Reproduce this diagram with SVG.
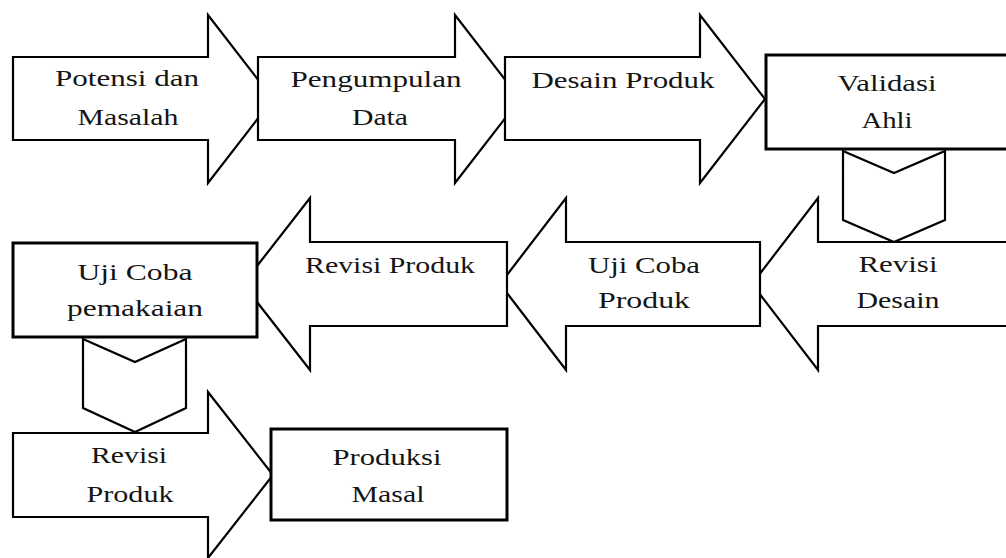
<svg xmlns="http://www.w3.org/2000/svg" width="1006" height="558" viewBox="0 0 1006 558">
<style>
.arr{fill:#fff;stroke:#000;stroke-width:2.2;stroke-linejoin:miter}
.box{fill:#fff;stroke:#000;stroke-width:3}
.chev{fill:#fff;stroke:#000;stroke-width:2.2}
text{font-family:"Liberation Serif","Times New Roman",serif;font-size:24px;fill:#151515;text-anchor:middle}
</style>
<rect width="1006" height="558" fill="#fff"/>
<g id="n1"><polygon class="arr" points="13,57 208,57 208,15 273,99 208,183 208,140 13,140"/>
<text x="127" y="86" textLength="144" lengthAdjust="spacingAndGlyphs">Potensi dan</text>
<text x="128" y="125" textLength="101" lengthAdjust="spacingAndGlyphs">Masalah</text></g>
<g id="n2"><polygon class="arr" points="258,57 455,57 455,15 520,99 455,183 455,140 258,140"/>
<text x="376" y="87" textLength="171" lengthAdjust="spacingAndGlyphs">Pengumpulan</text>
<text x="380" y="125" textLength="56" lengthAdjust="spacingAndGlyphs">Data</text></g>
<g id="n3"><polygon class="arr" points="505,57 700,57 700,15 765,99 700,183 700,140 505,140"/>
<text x="623" y="88" textLength="183" lengthAdjust="spacingAndGlyphs">Desain Produk</text></g>
<g id="n4"><rect class="box" x="766" y="55" width="250" height="94"/>
<text x="887" y="91" textLength="99" lengthAdjust="spacingAndGlyphs">Validasi</text>
<text x="887" y="128" textLength="51" lengthAdjust="spacingAndGlyphs">Ahli</text></g>
<g id="n5"><polygon class="arr" points="1012,242 818,242 818,198 752,284 818,370 818,326 1012,326"/>
<text x="898" y="272" textLength="79" lengthAdjust="spacingAndGlyphs">Revisi</text>
<text x="898" y="308" textLength="83" lengthAdjust="spacingAndGlyphs">Desain</text></g>
<g id="n6"><polygon class="arr" points="760,242 566,242 566,198 500,284 566,370 566,326 760,326"/>
<text x="644" y="273" textLength="112" lengthAdjust="spacingAndGlyphs">Uji Coba</text>
<text x="644" y="308" textLength="92" lengthAdjust="spacingAndGlyphs">Produk</text></g>
<g id="n7"><polygon class="arr" points="507,242 310,242 310,198 243,284 310,370 310,326 507,326"/>
<text x="390" y="273" textLength="170" lengthAdjust="spacingAndGlyphs">Revisi Produk</text></g>
<g id="n8"><rect class="box" x="13" y="243" width="244" height="94"/>
<text x="135" y="280" textLength="115" lengthAdjust="spacingAndGlyphs">Uji Coba</text>
<text x="135" y="316" textLength="136" lengthAdjust="spacingAndGlyphs">pemakaian</text></g>
<g id="n9"><polygon class="arr" points="13,433 208,433 208,392 273,475 208,558 208,517 13,517"/>
<text x="129" y="463" textLength="76" lengthAdjust="spacingAndGlyphs">Revisi</text>
<text x="130" y="502" textLength="87" lengthAdjust="spacingAndGlyphs">Produk</text></g>
<g id="n10"><rect class="box" x="271" y="429" width="236" height="91"/>
<text x="387" y="465" textLength="109" lengthAdjust="spacingAndGlyphs">Produksi</text>
<text x="388" y="502" textLength="73" lengthAdjust="spacingAndGlyphs">Masal</text></g>
<g id="connectors">
<polygon id="chev1" class="chev" points="843,151 894,173 945,151 945,220 894,242 843,220"/>
<polygon id="chev2" class="chev" points="83,339 135,362 186,339 186,408 135,432 83,408"/>
</g>
</svg>
